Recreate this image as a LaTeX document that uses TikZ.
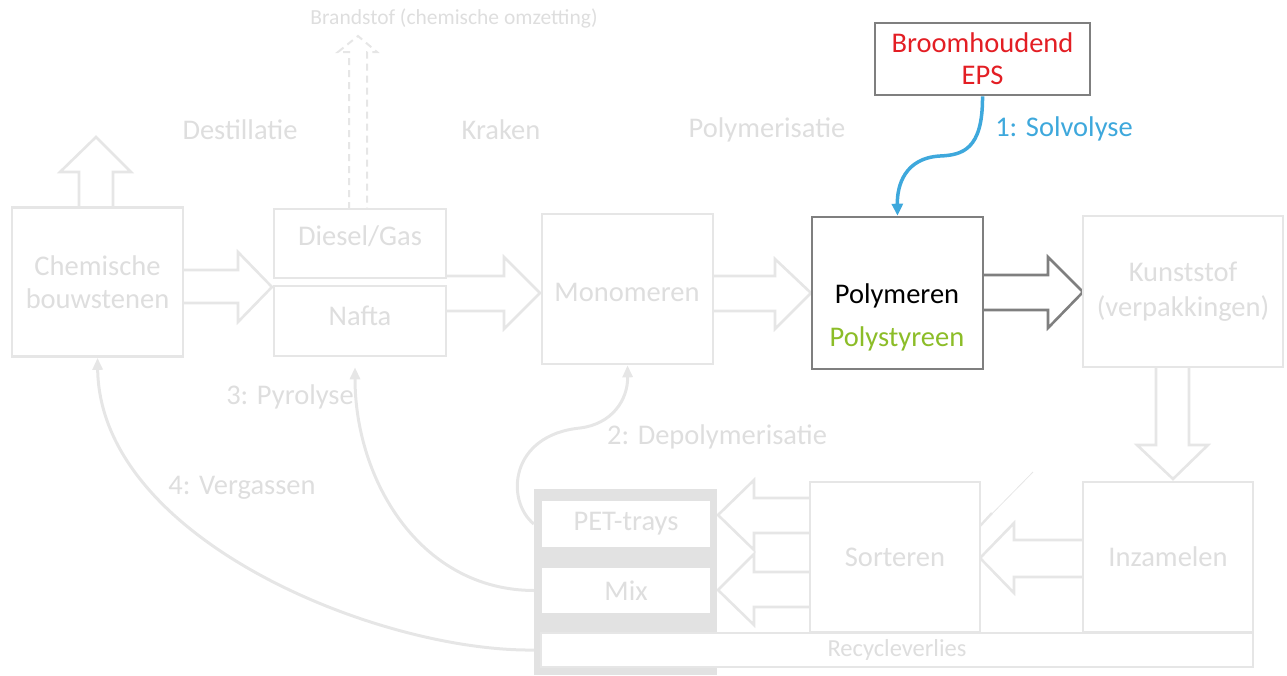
\documentclass[tikz,border=0pt]{standalone}
\usepackage{fontspec}
\setmainfont{Carlito}
\usetikzlibrary{arrows.meta}
\definecolor{lg}{RGB}{230,230,230}
\definecolor{lt}{RGB}{222,222,222}
\definecolor{dg}{RGB}{127,127,127}
\definecolor{blk}{RGB}{226,226,226}
\definecolor{epsred}{RGB}{227,30,36}
\definecolor{solblue}{RGB}{62,168,220}
\definecolor{psgreen}{RGB}{140,189,40}
\begin{document}
\begin{tikzpicture}[x=1pt,y=-1pt,
  every node/.style={font=\fontsize{28.5}{33}\selectfont, inner sep=0pt},
  lbox/.style={draw=lg, line width=2.6pt, fill=white, text=lt, align=center},
  dbox/.style={draw=dg, line width=2.6pt, fill=white, align=center},
  barrow/.style={draw=lg, line width=2.6pt, fill=white, line join=miter},
  darrow/.style={draw=dg, line width=2.6pt, fill=white, line join=miter},
  curv/.style={draw=lg, line width=3pt, -{Triangle[length=12pt,width=10pt]}},
  lbl/.style={text=lt},
  small/.style={font=\fontsize{21.5}{25}\selectfont}]
\useasboundingbox (0,0) rectangle (1287,675);

% block arrows (drawn first, boxes on top)
\path[barrow] (79,207) -- (79,172) -- (60,172) -- (96,137) -- (131,172) -- (113,172) -- (113,207);
\path[barrow, line width=2pt, dash pattern=on 7pt off 5pt] (349,209) -- (349,52) -- (338,52) -- (358,36) -- (377,52) -- (367,52) -- (367,209);
\path[barrow] (183,270) -- (238,270) -- (238,252) -- (272,287) -- (238,322) -- (238,303) -- (183,303);
\path[barrow] (446,276) -- (504,276) -- (504,257) -- (540,293) -- (504,329) -- (504,311) -- (446,311);
\path[barrow] (713,276) -- (775,276) -- (775,259) -- (811,293) -- (775,329) -- (775,311) -- (713,311);
\path[darrow] (983,275) -- (1048,275) -- (1048,257) -- (1083,292) -- (1048,328) -- (1048,310) -- (983,310);
\path[barrow] (1156,367) -- (1156,445) -- (1137,445) -- (1173,479) -- (1208,445) -- (1189,445) -- (1189,367);
\path[barrow] (1083,540) -- (1014,540) -- (1014,523) -- (980,558) -- (1014,593) -- (1014,577) -- (1083,577);
\path[barrow] (810,498) -- (754,498) -- (754,480) -- (718,515) -- (754,550) -- (754,533) -- (810,533);
\path[barrow] (810,572) -- (754,572) -- (754,554) -- (718,590) -- (754,625) -- (754,607) -- (810,607);

% boxes
\node[lbox, minimum width=171, minimum height=149] (chem) at (97.5,282) {Chemische\\bouwstenen};
\node[lbox, minimum width=172, minimum height=69] (diesel) at (360,243.5) {};
\node[lbl] at (360,236) {Diesel/Gas};
\node[lbox, minimum width=172, minimum height=70] (nafta) at (360,321) {};
\node[lbl] at (360,316) {Nafta};
\node[lbox, minimum width=171, minimum height=150] (mono) at (627.5,289) {};
\node[lbl] at (627,292) {Monomeren};
\node[dbox, minimum width=171, minimum height=152] (poly) at (897.5,293) {};
\node at (897,296) {Polymeren};
\node[text=psgreen] at (897,339) {Polystyreen};
\node[lbox, minimum width=200, minimum height=151, font=\fontsize{28.5}{35}\selectfont] (kunst) at (1183,291.5) {Kunststof\\(verpakkingen)};
\node[lbox, minimum width=170, minimum height=150] (inz) at (1168,557) {Inzamelen};
\node[lbox, minimum width=170, minimum height=150] (sort) at (895,557) {Sorteren};
\node[dbox, text=epsred, minimum width=215, minimum height=72, font=\fontsize{28.5}{32}\selectfont] (eps) at (982.5,59) {Broomhoudend\\EPS};

% collection block
\node[fill=blk, minimum width=183, minimum height=186] (blk) at (625.5,582) {};
\node[fill=white, minimum width=168, minimum height=46, text=lt] (pet) at (626,524) {PET-trays};
\node[fill=white, minimum width=168, minimum height=45, text=lt] (mix) at (626,590.5) {Mix};
\node[lbox, minimum width=712, minimum height=34, font=\fontsize{24.5}{28}\selectfont] (recy) at (897,650) {Recycleverlies};

% thin diagonal line
\draw[lg, line width=0.8pt] (980,526) -- (1033,472);
\draw[lg, line width=2.4pt] (980,526) -- (992,513);

% curved connectors
\draw[solblue, line width=3.5pt, -{Triangle[length=12pt,width=11pt]}] (eps.south) .. controls (983,150) and (962,155) .. (940,156) .. controls (905,158) and (897,185) .. (poly.north);
\draw[curv] (blk.west |- pet.west) .. controls (505,500) and (510,435) .. (580,428) .. controls (612,424) and (628,400) .. (mono.south);
\draw[curv, shorten >=10pt] (blk.west |- mix.west) .. controls (420,590) and (355,480) .. ([xshift=-5pt]nafta.south);
\draw[curv] (blk.west |- recy.west) .. controls (380,652) and (100,540) .. (chem.south);

% labels
\node[lbl, small] at (454,18) {Brandstof (chemische omzetting)};
\node[lbl] at (240,130) {Destillatie};
\node[lbl] at (501,130) {Kraken};
\node[lbl] at (767,130) {Polymerisatie};
\node[text=solblue] at (1064,129) {1: Solvolyse};
\node[lbl] at (290,397) {3: Pyrolyse};
\node[lbl] at (717,437) {2: Depolymerisatie};
\node[lbl] at (242,488) {4: Vergassen};
\end{tikzpicture}
\end{document}
